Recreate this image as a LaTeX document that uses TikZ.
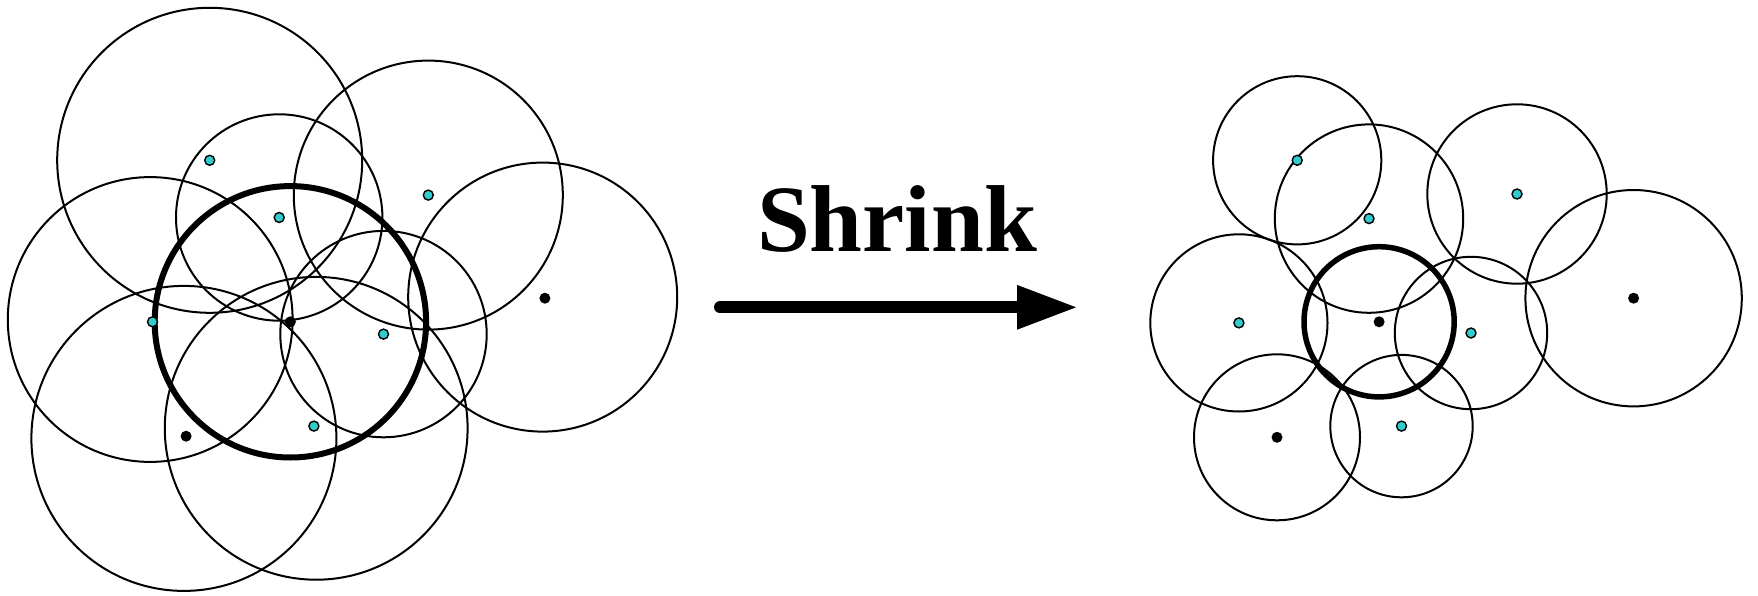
\documentclass[tikz,border=0pt]{standalone}
\usepackage{fontspec}
\setmainfont{Liberation Serif}[BoldFont={Liberation Serif Bold}]
\usetikzlibrary{arrows.meta}
\definecolor{sitecyan}{RGB}{51,204,204}
\tikzset{
  rangering/.style={draw=black,line width=2pt},
  ownring/.style={draw=black,line width=6pt},
  cyandot/.style={circle,fill=sitecyan,draw=black,line width=1.4pt,inner sep=0pt,minimum size=10pt},
  blackdot/.style={circle,fill=black,inner sep=0pt,minimum size=11pt},
}
\begin{document}
\begin{tikzpicture}[x=1pt,y=-1pt]
\useasboundingbox (0,0) rectangle (1758,596);

% ---- before: large ranges ----
\draw[rangering] (209.7,160.3) circle[radius=152.5];
\draw[rangering] (428.3,195.1) circle[radius=134.5];
\draw[rangering] (279.2,217.5) circle[radius=103.2];
\draw[rangering] (150.2,319.5) circle[radius=142.4];
\draw[rangering] (542.7,297.1) circle[radius=134.5];
\draw[rangering] (383.5,334.1) circle[radius=103.2];
\draw[rangering] (183.9,438.4) circle[radius=152.5];
\draw[rangering] (316.2,428.3) circle[radius=151.4];
\draw[ownring] (290.4,321.8) circle[radius=135.7];

\node[cyandot] (l1) at (209.7,160.3) {};
\node[cyandot] (l2) at (428.3,195.1) {};
\node[cyandot] (l3) at (279.2,217.5) {};
\node[cyandot] (l4) at (152.5,321.8) {};
\node[cyandot] (l5) at (383.5,334.1) {};
\node[cyandot] (l6) at (313.9,426.1) {};
\node[blackdot] (l7) at (290.4,321.8) {};
\node[blackdot] (l8) at (544.9,298.2) {};
\node[blackdot] (l9) at (186.1,436.2) {};

% ---- transition ----
\node[font=\bfseries\fontsize{95}{110}\selectfont,anchor=base] (lbl) at (897,251) {Shrink};
\coordinate (from) at (720,307.3);
\coordinate (to) at (1078,307.3);
\draw[line width=12pt,line cap=round,-{Triangle[length=61pt,width=41pt]}] (from) -- (to);

% ---- after: reduced ranges ----
\draw[rangering] (1297.2,160.3) circle[radius=84.1];
\draw[rangering] (1369.0,218.6) circle[radius=94.2];
\draw[rangering] (1517.0,194.0) circle[radius=89.7];
\draw[rangering] (1633.6,298.2) circle[radius=108.2];
\draw[rangering] (1238.9,322.9) circle[radius=88.6];
\draw[rangering] (1471.0,333.0) circle[radius=76.2];
\draw[rangering] (1277.0,437.3) circle[radius=83.0];
\draw[rangering] (1401.5,426.1) circle[radius=71.2];
\draw[ownring,line width=5.5pt] (1379.1,321.8) circle[radius=75.1];

\node[cyandot] (r1) at (1297.2,160.3) {};
\node[cyandot] (r2) at (1369.0,218.6) {};
\node[cyandot] (r3) at (1517.0,194.0) {};
\node[cyandot] (r4) at (1238.9,322.9) {};
\node[cyandot] (r5) at (1471.0,333.0) {};
\node[cyandot] (r6) at (1401.5,426.1) {};
\node[blackdot] (r7) at (1379.1,321.8) {};
\node[blackdot] (r8) at (1633.6,298.2) {};
\node[blackdot] (r9) at (1277.0,437.3) {};
\end{tikzpicture}
\end{document}
